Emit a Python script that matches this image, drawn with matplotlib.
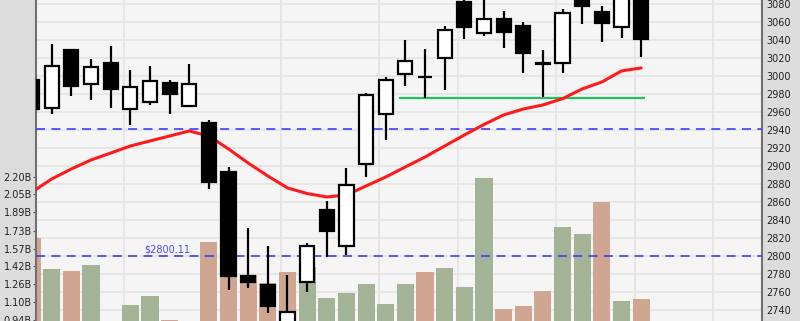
import matplotlib
matplotlib.use("Agg")
import matplotlib.pyplot as plt
from matplotlib.patches import Rectangle
from matplotlib.lines import Line2D
from matplotlib.transforms import blended_transform_factory
import numpy as np

# ---------------- data ----------------
opens  = [2995.6, 2964.0, 3028.9, 2990.8, 3014.1, 2963.3, 2971.1, 2991.9, 2966.7, 2947.4,
          2893.0, 2777.4, 2767.4, 2720.0, 2771.1, 2850.8, 2811.1, 2902.2, 2957.4, 3002.2,
          2998.9, 3019.7, 3081.9, 3047.4, 3063.3, 3055.6, 3014.0, 3014.8, 3083.0, 3071.4,
          3054.1, 3095.0]
highs  = [2998.0, 3035.6, 3030.0, 3018.9, 3033.3, 3006.3, 3010.8, 2995.6, 3013.3, 2951.1,
          2898.6, 2831.1, 2811.1, 2778.9, 2814.4, 2861.1, 2897.4, 2980.8, 2998.9, 3039.7,
          3030.0, 3055.2, 3090.0, 3087.0, 3072.2, 3059.7, 3028.9, 3074.1, 3088.0, 3078.1,
          3095.0, 3100.0]
lows   = [2960.0, 2958.0, 2978.1, 2973.7, 2964.8, 2945.9, 2967.4, 2958.1, 2966.0, 2874.1,
          2762.6, 2764.8, 2737.0, 2715.0, 2759.6, 2798.9, 2801.4, 2887.4, 2928.6, 2989.2,
          2975.6, 2984.8, 3041.4, 3044.1, 3031.4, 3003.7, 2977.0, 3003.7, 3057.4, 3038.1,
          3042.6, 3021.4]
closes = [2963.0, 3011.4, 2989.2, 3010.4, 2985.9, 2988.1, 2994.8, 2980.4, 2991.4, 2882.6,
          2778.1, 2771.4, 2744.8, 2738.1, 2811.4, 2827.4, 2879.2, 2979.2, 2995.9, 3016.3,
          2998.9, 3051.4, 3054.1, 3063.0, 3049.2, 3025.2, 3013.3, 3070.3, 3077.4, 3059.2,
          3090.0, 3041.4]
volumes_b = [1.664, 1.391, 1.374, 1.427, 0.900, 1.072, 1.151, 0.940, 0.910, 1.629,
             1.600, 1.336, 1.268, 1.365, 1.409, 1.136, 1.180, 1.259, 1.083, 1.259,
             1.362, 1.397, 1.233, 2.189, 1.037, 1.066, 1.195, 1.758, 1.699, 1.978,
             1.107, 1.127]
moving_avg = [2871.1, 2885.6, 2896.7, 2906.7, 2914.4, 2922.2, 2927.8, 2933.3, 2938.9, 2933.3,
              2918.9, 2903.3, 2888.9, 2875.6, 2869.4, 2865.6, 2867.8, 2877.8, 2887.8, 2898.9,
              2910.0, 2922.2, 2934.4, 2946.1, 2956.7, 2963.3, 2967.8, 2974.8, 2985.6, 2993.3,
              3005.6, 3008.9]
support_level = 2975.0
ref_levels = [2941.0, 2800.11]
ref_label = "$2800.11"
price_ticks = list(range(2740, 3081, 20))
vol_ticks = [0.94, 1.10, 1.26, 1.42, 1.57, 1.73, 1.89, 2.05, 2.20]
vol_tick_labels = ["0.94B", "1.10B", "1.26B", "1.42B", "1.57B", "1.73B", "1.89B", "2.05B", "2.20B"]
vgrid_idx = [5, 13, 18, 22, 27, 31, 35]

# ---------------- figure ----------------
W, H = 800, 321
fig = plt.figure(figsize=(W / 100, H / 100), dpi=100, facecolor="#dcdcdc")
ax_v = fig.add_axes([36 / W, 0, (762 - 36) / W, 1])
ax_p = ax_v.twinx()
ax_v.set_zorder(1)
ax_p.set_zorder(2)
ax_p.patch.set_visible(False)
ax_v.set_facecolor("#f5f5f5")

xlim = (0.2, 37.15)
ax_v.set_xlim(*xlim)
ax_p.set_xlim(*xlim)
ax_p.set_ylim(2727.8, 3084.4)
ax_v.set_ylim(0.935, 3.759)

n = len(closes)
idx = np.arange(n)

# gridlines (on the lower axes so bars cover them)
tr = blended_transform_factory(ax_v.transAxes, ax_p.transData)
for p in price_ticks + [3100]:
    ax_v.add_line(Line2D([0, 1], [p, p], transform=tr, color="#e3e3e3", lw=1.2, zorder=0.5))
for g in vgrid_idx:
    ax_v.axvline(g - 0.33, color="#e3e3e3", lw=1.2, zorder=0.5)

# volume bars
vol_colors = []
for i in range(n):
    prev = closes[i - 1] if i > 0 else opens[i]
    vol_colors.append("#a4b396" if closes[i] >= prev else "#cfa692")
ax_v.bar(idx, volumes_b, width=0.87, color=vol_colors, zorder=2)

# reference dashed lines
for lv in ref_levels:
    ax_p.axhline(lv, color="#3b3bff", lw=1.3, ls=(0, (5, 3.5)), zorder=3, alpha=0.9)
ax_p.text(8.07, ref_levels[1] + 1.5, ref_label, color="#4a4aff", fontsize=7,
          ha="right", va="bottom", zorder=3)

# support line
ax_p.hlines(support_level, 18.68, 31.2, color="#1ec060", lw=1.6, zorder=3)

# moving average
ax_p.plot(idx, moving_avg, color="#ff1a1a", lw=2.2, zorder=4, solid_capstyle="round")

# candles
bw = 0.72
for i in range(n):
    o, h, l, c = opens[i], highs[i], lows[i], closes[i]
    ax_p.vlines(i, l, h, color="black", lw=1.6, zorder=5)
    fc = "white" if c >= o else "black"
    lo, hi = min(o, c), max(o, c)
    ax_p.add_patch(Rectangle((i - bw / 2, lo), bw, hi - lo, facecolor=fc,
                             edgecolor="black", lw=1.6, zorder=6))

# axes styling
ax_p.set_yticks(price_ticks)
ax_p.set_yticklabels([str(t) for t in price_ticks])
ax_p.tick_params(axis="y", right=True, left=False, length=0, pad=3, labelsize=7,
                 labelcolor="#222222")
ax_v.set_yticks(vol_ticks)
ax_v.set_yticklabels(vol_tick_labels)
ax_v.tick_params(axis="y", left=True, right=False, length=2, width=0.8, pad=1,
                 labelsize=7, labelcolor="#222222", color="#555555")
ax_v.set_xticks([])
ax_p.set_xticks([])
for s in ax_p.spines.values():
    s.set_visible(False)
for k in ["top", "bottom"]:
    ax_v.spines[k].set_visible(False)
for k in ["left", "right"]:
    ax_v.spines[k].set_color("#707070")
    ax_v.spines[k].set_linewidth(1.5)

fig.savefig("out.png", dpi=100, facecolor=fig.get_facecolor())
